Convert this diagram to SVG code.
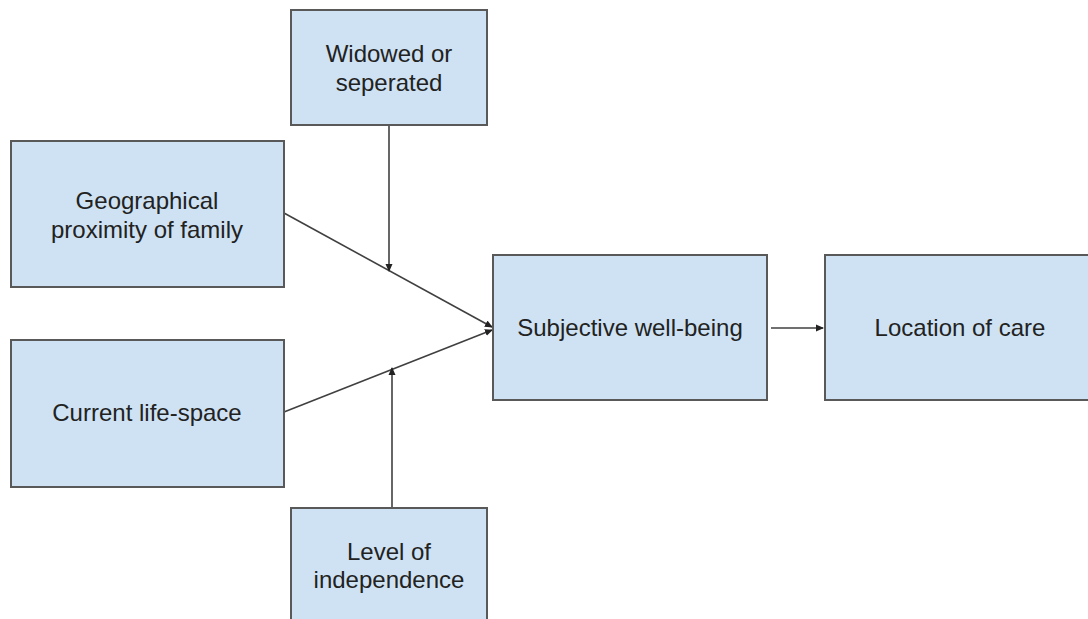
<svg xmlns="http://www.w3.org/2000/svg" width="1088" height="619" viewBox="0 0 1088 619">
<style>
.box{fill:#cfe2f3;stroke:#595959;stroke-width:2}
.t{font-family:"Liberation Sans",Arial,sans-serif;font-size:24px;fill:#222;text-anchor:middle}
.c{stroke:#404040;stroke-width:1.6;fill:none;marker-end:url(#ah)}
</style>
<defs>
<marker id="ah" markerWidth="8" markerHeight="8" refX="7" refY="4" orient="auto" markerUnits="userSpaceOnUse">
<path d="M0,0.5 L8,4 L0,7.5 Z" fill="#222"/>
</marker>
</defs>
<rect width="1088" height="619" fill="#fff"/>
<g id="connectors">
<line class="c" x1="284" y1="213" x2="492" y2="327"/>
<line class="c" x1="284" y1="412" x2="492" y2="330"/>
<line class="c" x1="389" y1="125" x2="389" y2="271"/>
<line class="c" x1="392" y1="508" x2="392" y2="368"/>
<line class="c" x1="771" y1="328" x2="823" y2="328"/>
</g>
<g id="widowed"><rect class="box" x="291" y="10" width="196" height="115"/><text class="t" x="389" y="62">Widowed or</text><text class="t" x="389" y="91">seperated</text></g>
<g id="geo"><rect class="box" x="11" y="141" width="273" height="146"/><text class="t" x="147" y="209">Geographical</text><text class="t" x="147" y="238">proximity of family</text></g>
<g id="life"><rect class="box" x="11" y="340" width="273" height="147"/><text class="t" x="147" y="421">Current life-space</text></g>
<g id="indep"><rect class="box" x="291" y="508" width="196" height="125"/><text class="t" x="389" y="560">Level of</text><text class="t" x="389" y="588">independence</text></g>
<g id="swb"><rect class="box" x="493" y="255" width="274" height="145"/><text class="t" x="630" y="336">Subjective well-being</text></g>
<g id="loc"><rect class="box" x="825" y="255" width="274" height="145"/><text class="t" x="960" y="336">Location of care</text></g>
</svg>
